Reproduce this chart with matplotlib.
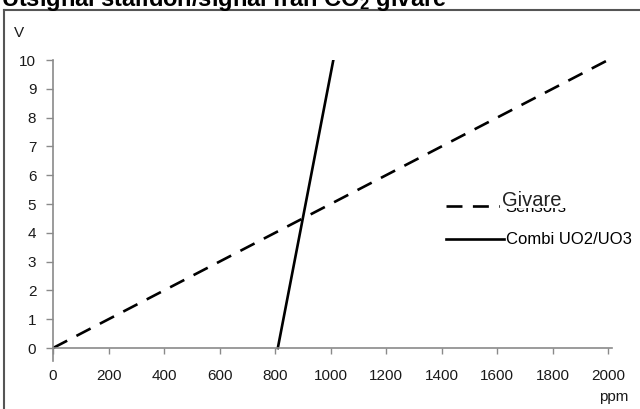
import matplotlib
matplotlib.use("Agg")
import matplotlib.pyplot as plt
from matplotlib.patches import Rectangle
from matplotlib.lines import Line2D

plt.rcParams['font.family'] = ['Liberation Sans', 'DejaVu Sans']
plt.rcParams['mathtext.fontset'] = 'custom'
plt.rcParams['mathtext.rm'] = 'Liberation Sans:bold'
plt.rcParams['mathtext.bf'] = 'Liberation Sans:bold'
plt.rcParams['mathtext.it'] = 'Liberation Sans:bold'
plt.rcParams['lines.scale_dashes'] = False

# Data
sensor_ppm = [0, 2000]
sensor_v = [0, 10]
combi_ppm = [810, 1010]
combi_v = [0, 10]
x_ticks = [0, 200, 400, 600, 800, 1000, 1200, 1400, 1600, 1800, 2000]
y_ticks = [0, 1, 2, 3, 4, 5, 6, 7, 8, 9, 10]
series_labels = ["Sensors", "Combi UO2/UO3"]
legend_title = "Givare"
title = "Utsignal ställdon/signal från CO$_\\mathbf{2}$ givare"

W, H = 640, 409
fig = plt.figure(figsize=(W / 100, H / 100), dpi=100)

def fx(px):
    return px / W

def fy(py):
    return 1 - py / H

ax = fig.add_axes([fx(53), fy(361), fx(612) - fx(53), fy(60) - fy(361)])
ax.set_xlim(0, 2014)
ax.set_ylim(-0.45, 10)

l1, = ax.plot(sensor_ppm, sensor_v, color='black', lw=1.9, dashes=[11.5, 7.5],
              solid_capstyle='butt', dash_capstyle='butt')
l2, = ax.plot(combi_ppm, combi_v, color='black', lw=1.9)

gray = '#8a8a8a'
for s in ['top', 'right']:
    ax.spines[s].set_visible(False)
ax.spines['bottom'].set_position(('data', 0))
ax.spines['bottom'].set_color(gray)
ax.spines['left'].set_color(gray)
ax.spines['bottom'].set_linewidth(1.2)
ax.spines['left'].set_linewidth(1.2)

ax.set_xticks(x_ticks)
ax.set_yticks(y_ticks)
ax.tick_params(axis='x', direction='out', length=4, width=1, color=gray,
               labelsize=11, pad=11, labelcolor='#1a1a1a')
ax.tick_params(axis='y', direction='out', length=5, width=1, color=gray,
               labelsize=11, pad=7, labelcolor='#1a1a1a')

# Axis unit labels
fig.text(fx(19), fy(33), "V", fontsize=11, ha='center', va='center', color='#1a1a1a')
fig.text(fx(628), fy(397), "ppm", fontsize=11, ha='right', va='center', color='#1a1a1a')

# Legend
leg = ax.legend([l1, l2], series_labels, loc='upper left',
                bbox_to_anchor=(fx(446), fy(200)), bbox_transform=fig.transFigure,
                frameon=False, fontsize=12, handlelength=3.45, handletextpad=0.12,
                labelspacing=1.05, borderpad=0, borderaxespad=0)

# white cover + legend title overlapping first label
fig.add_artist(Rectangle((fx(500), fy(207.5)), fx(80), fy(186) - fy(207.5),
                         transform=fig.transFigure, facecolor='white',
                         edgecolor='none', zorder=4))
fig.text(fx(502), fy(206.5), legend_title, fontsize=14.5, ha='left', va='baseline',
         color='#222222', zorder=5)

# Outer frame (left and top edges)
fig.add_artist(Line2D([fx(4), fx(4)], [0, fy(10)], transform=fig.transFigure,
                      color='#555555', lw=1.5))
fig.add_artist(Line2D([fx(4), 1], [fy(10), fy(10)], transform=fig.transFigure,
                      color='#555555', lw=1.5))

# Title (partly cut off at the top)
fig.text(fx(1), fy(6), title, fontsize=17, fontweight='bold', ha='left',
         va='baseline', color='black')

fig.savefig("out.png", dpi=100)
